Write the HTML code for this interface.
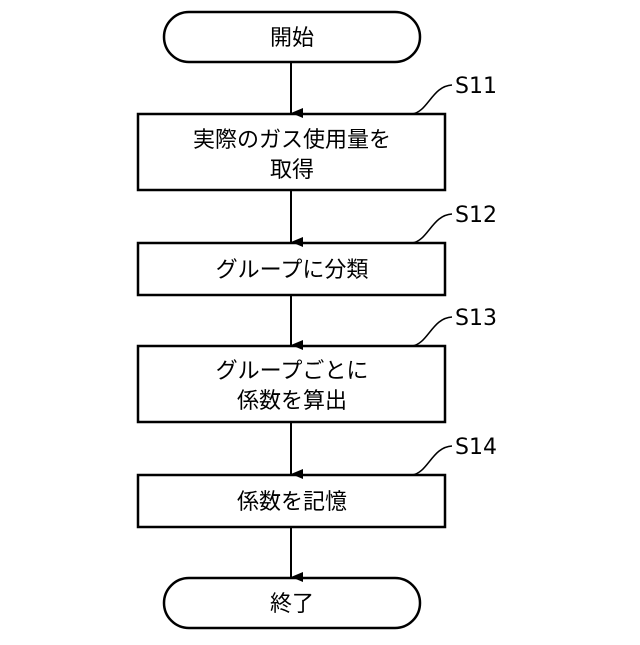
<!DOCTYPE html>
<html><head><meta charset="utf-8"><style>html,body{margin:0;padding:0;background:#fff}</style></head><body>
<svg width="640" height="640" viewBox="0 0 640 640" xmlns="http://www.w3.org/2000/svg">
<defs><marker id="a" markerWidth="10" markerHeight="12" refX="5" refY="12" orient="auto" markerUnits="userSpaceOnUse"><path d="M0,0 L10,0 L5,12 Z" fill="#000"/></marker></defs>
<g fill="none" stroke="#000" stroke-width="2.5">
<rect x="164" y="12" width="256" height="50" rx="25"/>
<rect x="138" y="114" width="307" height="76"/>
<rect x="138" y="243" width="307" height="52"/>
<rect x="138" y="346" width="307" height="76"/>
<rect x="138" y="475" width="307" height="52"/>
<rect x="164" y="578" width="256" height="50" rx="25"/>
</g>
<g stroke="#000" stroke-width="2">
<line x1="291" y1="62" x2="291" y2="113" marker-end="url(#a)"/>
<line x1="291" y1="190" x2="291" y2="242" marker-end="url(#a)"/>
<line x1="291" y1="295" x2="291" y2="345" marker-end="url(#a)"/>
<line x1="291" y1="422" x2="291" y2="474" marker-end="url(#a)"/>
<line x1="291" y1="527" x2="291" y2="577" marker-end="url(#a)"/>
</g>
<g fill="none" stroke="#000" stroke-width="1.5">
<path d="M412,114 C428,112 432,86 452,85"/>
<path d="M412,243 C428,241 432,215 452,214"/>
<path d="M412,346 C428,344 432,318 452,317"/>
<path d="M412,475 C428,473 432,447 452,446"/>
</g>
<g font-family="'DejaVu Sans','Noto Sans CJK JP',sans-serif" font-size="22" text-anchor="middle" fill="#000">
<text x="292" y="45">開始</text>
<text x="292" y="147">実際のガス使用量を</text>
<text x="292" y="177">取得</text>
<text x="292" y="277">グループに分類</text>
<text x="292" y="378">グループごとに</text>
<text x="292" y="408">係数を算出</text>
<text x="292" y="509">係数を記憶</text>
<text x="292" y="611">終了</text>
</g>
<g font-family="'DejaVu Sans',sans-serif" font-size="22" fill="#000">
<text x="455" y="93">S11</text>
<text x="455" y="222">S12</text>
<text x="455" y="325">S13</text>
<text x="455" y="454">S14</text>
</g>
</svg>
</body></html>
